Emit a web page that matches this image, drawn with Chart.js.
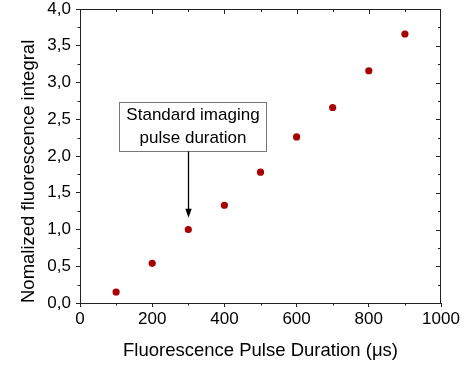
<!DOCTYPE html>
<html>
<head>
<meta charset="utf-8">
<script src="https://cdn.jsdelivr.net/npm/chart.js@4/dist/chart.umd.min.js"></script>
<style>
  html, body { margin: 0; padding: 0; background: #fff; }
  #wrap { width: 464px; height: 365px; }
</style>
</head>
<body>
<div id="wrap"><canvas id="chart" width="464" height="365"></canvas></div>
<script>
// Data
const pulseDurations = [100, 200, 300, 400, 500, 600, 700, 800, 900];
const fluorescence = [0.15, 0.54, 1.00, 1.33, 1.78, 2.26, 2.66, 3.16, 3.66];
const xTicks = [0, 200, 400, 600, 800, 1000];
const yTicks = [0, 0.5, 1.0, 1.5, 2.0, 2.5, 3.0, 3.5, 4.0];

const FONT = "'Liberation Sans', Arial, sans-serif";
const AXIS_COLOR = '#222';

// Annotation box (data units)
const note = {
  lines: ['Standard imaging', 'pulse duration'],
  x0: 108, x1: 515, yTop: 2.735, yBottom: 2.068,
  arrowX: 300, arrowTip: 1.16
};

// Frame (top/right) and minor ticks, plus the annotation
const framePlugin = {
  id: 'frame',
  afterDraw(chart) {
    const ctx = chart.ctx;
    const xs = chart.scales.x, ys = chart.scales.y;
    const a = chart.chartArea;
    ctx.save();
    ctx.strokeStyle = AXIS_COLOR;
    ctx.lineWidth = 1;
    ctx.beginPath();
    ctx.moveTo(a.left, a.top + 0.5);
    ctx.lineTo(a.right, a.top + 0.5);
    ctx.moveTo(a.right - 0.5, a.top);
    ctx.lineTo(a.right - 0.5, a.bottom);
    // x ticks: minor outward on bottom, all inward on top
    for (let v = 100; v < 1000; v += 100) {
      const px = Math.round(xs.getPixelForValue(v)) + 0.5;
      if (v % 200 !== 0) {
        ctx.moveTo(px, a.bottom);
        ctx.lineTo(px, a.bottom + 2.5);
      }
      ctx.moveTo(px, a.top);
      ctx.lineTo(px, a.top + (v % 200 === 0 ? 5 : 3));
    }
    // y ticks: minor outward on left, all inward on right
    for (let i = 1; i < 16; i++) {
      const v = i * 0.25;
      const py = Math.round(ys.getPixelForValue(v)) + 0.5;
      if (i % 2 !== 0) {
        ctx.moveTo(a.left, py);
        ctx.lineTo(a.left - 2.5, py);
      }
      ctx.moveTo(a.right, py);
      ctx.lineTo(a.right - (i % 2 === 0 ? 5 : 3), py);
    }
    ctx.stroke();

    // annotation box
    const bx0 = Math.round(xs.getPixelForValue(note.x0)) + 0.5;
    const bx1 = Math.round(xs.getPixelForValue(note.x1)) + 0.5;
    const by0 = Math.round(ys.getPixelForValue(note.yTop)) + 0.5;
    const by1 = Math.round(ys.getPixelForValue(note.yBottom)) + 0.5;
    ctx.fillStyle = '#fff';
    ctx.fillRect(bx0, by0, bx1 - bx0, by1 - by0);
    ctx.strokeStyle = '#777';
    ctx.strokeRect(bx0, by0, bx1 - bx0, by1 - by0);
    ctx.fillStyle = '#000';
    ctx.font = '17px ' + FONT;
    ctx.textAlign = 'center';
    ctx.textBaseline = 'middle';
    const cx = (bx0 + bx1) / 2;
    ctx.fillText(note.lines[0], cx, by0 + 13);
    ctx.fillText(note.lines[1], cx, by0 + 36);

    // arrow
    const ax = Math.round(xs.getPixelForValue(note.arrowX)) + 0.5;
    const tip = ys.getPixelForValue(note.arrowTip);
    ctx.strokeStyle = '#000';
    ctx.lineWidth = 1.3;
    ctx.beginPath();
    ctx.moveTo(ax, by1);
    ctx.lineTo(ax, tip - 6);
    ctx.stroke();
    ctx.beginPath();
    ctx.moveTo(ax - 3.2, tip - 9);
    ctx.lineTo(ax + 3.2, tip - 9);
    ctx.lineTo(ax, tip);
    ctx.closePath();
    ctx.fill();
    ctx.restore();
  }
};

new Chart(document.getElementById('chart'), {
  type: 'scatter',
  data: {
    datasets: [{
      data: pulseDurations.map((x, i) => ({ x: x, y: fluorescence[i] })),
      backgroundColor: '#a80000',
      borderColor: '#a80000',
      pointRadius: 3.6,
      pointBorderWidth: 0
    }]
  },
  options: {
    responsive: false,
    animation: false,
    layout: { padding: { top: 9, right: 23, left: 0, bottom: 0 } },
    plugins: { legend: { display: false }, tooltip: { enabled: false } },
    scales: {
      x: {
        type: 'linear',
        min: 0, max: 1000,
        afterBuildTicks: s => { s.ticks = xTicks.map(v => ({ value: v })); },
        afterFit: s => { s.height = 62; s.paddingLeft = 0; s.paddingRight = 0; },
        grid: { drawOnChartArea: false, tickLength: 4, color: AXIS_COLOR },
        border: { color: AXIS_COLOR, width: 1 },
        ticks: {
          color: '#000',
          font: { family: FONT, size: 17 },
          padding: 2,
          maxRotation: 0,
          callback: v => String(v)
        },
        title: {
          display: true,
          text: 'Fluorescence Pulse Duration (\u03bcs)',
          color: '#000',
          font: { family: FONT, size: 18.5 },
          padding: { top: 0, bottom: 3 }
        }
      },
      y: {
        type: 'linear',
        min: 0, max: 4,
        afterBuildTicks: s => { s.ticks = yTicks.map(v => ({ value: v })); },
        afterFit: s => { s.width = 80; s.paddingTop = 0; s.paddingBottom = 0; },
        grid: { drawOnChartArea: false, tickLength: 4, color: AXIS_COLOR },
        border: { color: AXIS_COLOR, width: 1 },
        ticks: {
          color: '#000',
          font: { family: FONT, size: 17 },
          padding: 5,
          callback: v => v.toFixed(1).replace('.', ',')
        },
        title: {
          display: true,
          align: 'start',
          text: 'Nomalized fluorescence integral',
          color: '#000',
          font: { family: FONT, size: 18.5 },
          padding: { top: 18, bottom: 0 }
        }
      }
    }
  },
  plugins: [framePlugin]
});
</script>
</body>
</html>
